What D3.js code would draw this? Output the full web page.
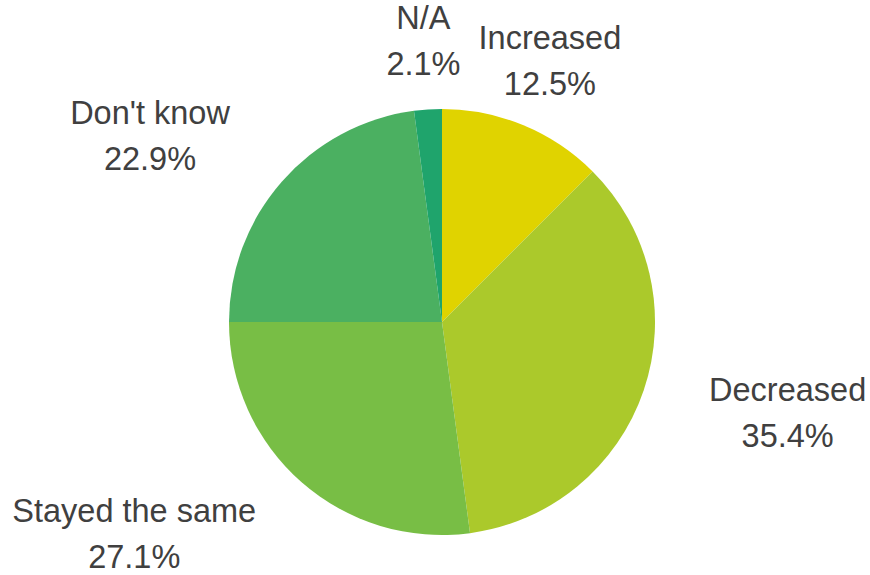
<!DOCTYPE html>
<html><head><meta charset="utf-8">
<script src="https://cdn.jsdelivr.net/npm/d3@7"></script>
<style>body{margin:0;background:#fff;}</style>
</head><body>
<svg id="chart" width="870" height="575"></svg>
<script>
const categories = ["Increased", "Decreased", "Stayed the same", "Don't know", "N/A"];
const values = [12.5, 35.4, 27.1, 22.9, 2.1];
const colors = ["#e0d300", "#abc92b", "#78be45", "#4bb061", "#1fa46c"];

const svg = d3.select("#chart");
const cx = 442, cy = 322, r = 213, lr = 282, gap = 23;
const g = svg.append("g").attr("transform", `translate(${cx},${cy})`);
const data = categories.map((c, i) => ({cat: c, val: values[i], col: colors[i]}));
const pie = d3.pie().value(d => d.val).sort(null);
const arc = d3.arc().innerRadius(0).outerRadius(r);
const arcs = pie(data);
g.selectAll("path").data(arcs).join("path")
  .attr("d", arc).attr("fill", d => d.data.col);

g.selectAll("text").data(arcs).join("text")
  .attr("font-family", "'Liberation Sans', Arial, sans-serif")
  .attr("font-size", 32.5)
  .attr("fill", "#404040")
  .attr("text-anchor", "middle")
  .each(function(d) {
    const a = (d.startAngle + d.endAngle) / 2;
    const x = lr * Math.sin(a), y = -lr * Math.cos(a);
    const s = Math.sin(a);
    const t = d3.select(this);
    const t1 = t.append("tspan").attr("y", y - gap).attr("dominant-baseline", "central").text(d.data.cat);
    const t2 = t.append("tspan").attr("y", y + gap).attr("dominant-baseline", "central").text(d3.format(".1f")(d.data.val) + "%");
    const w = Math.max(t1.node().getComputedTextLength(), t2.node().getComputedTextLength());
    const bx = s > 0.6 ? x + w / 2 : (s < -0.6 ? x - w / 2 : x);
    t1.attr("x", bx); t2.attr("x", bx);
  });
</script>
</body></html>
